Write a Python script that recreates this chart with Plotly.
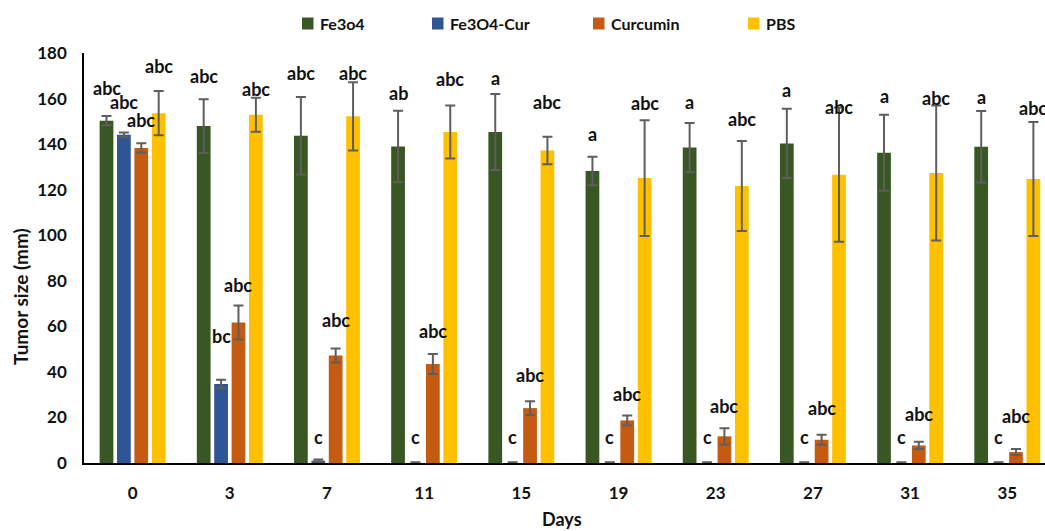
import plotly.graph_objects as go

# ---- data -------------------------------------------------------------
days = ["0", "3", "7", "11", "15", "19", "23", "27", "31", "35"]
series_names = ["Fe3o4", "Fe3O4-Cur", "Curcumin", "PBS"]

fe3o4 = [150.3, 147.9, 143.7, 139.0, 145.3, 128.2, 138.5, 140.3, 136.2, 138.8]
fe3o4_err = [2.0, 11.8, 17.0, 15.7, 16.7, 6.3, 10.8, 15.2, 16.7, 15.7]

fe3o4_cur = [144.1, 34.7, 1.0, 0, 0, 0, 0, 0, 0, 0]
fe3o4_cur_err = [1.0, 1.9, 0.5, 0.3, 0.3, 0.3, 0.3, 0.3, 0.3, 0.3]

curcumin = [138.3, 61.7, 47.2, 43.5, 24.1, 18.7, 11.7, 10.2, 7.7, 4.8]
curcumin_err = [2.1, 7.5, 3.1, 4.4, 3.0, 2.2, 3.6, 2.2, 1.6, 1.3]

pbs = [153.6, 152.9, 152.2, 145.3, 137.2, 125.1, 121.6, 126.6, 127.3, 124.7]
pbs_err = [9.7, 7.5, 15.0, 11.6, 6.0, 25.4, 19.8, 29.5, 29.6, 25.0]

# significance letters for each bar
fe3o4_letters = ["abc", "abc", "abc", "ab", "a", "a", "a", "a", "a", "a"]
fe3o4_cur_letters = ["abc", "bc", "c", "c", "c", "c", "c", "c", "c", "c"]
curcumin_letters = ["abc"] * 10
pbs_letters = ["abc"] * 10

# heights (axis units) at which each letter group is written
fe3o4_letter_y = [164.7, 169.7, 171.2, 162.4, 169.0, 144.6, 158.3, 163.6, 161.2, 160.9]
fe3o4_cur_letter_y = [158.6, 55.9, 11.3, 11.2, 11.2, 11.2, 11.2, 11.2, 11.2, 11.2]
curcumin_letter_y = [150.7, 78.3, 62.9, 58.1, 38.8, 30.4, 25.2, 24.1, 21.5, 20.7]
pbs_letter_y = [174.4, 164.2, 171.2, 168.7, 158.7, 158.0, 151.0, 156.5, 160.2, 155.8]

y_ticks = [0, 20, 40, 60, 80, 100, 120, 140, 160, 180]

# ---- styling ----------------------------------------------------------
colors = ["#385723", "#2F5597", "#C55A11", "#FFC000"]
FONT = "Lato"
W, H = 1045, 531
L, R, T, B = 84, 0, 53, 68
BARGAP, GROUPGAP = 0.284, 0.21
ERR_COLOR = "#5e5e5e"


def px_x(px):
    return (px - L) / (W - L - R)


def px_y(py):
    return (H - B - py) / (H - T - B)


x = list(range(len(days)))
values = [fe3o4, fe3o4_cur, curcumin, pbs]
errors = [fe3o4_err, fe3o4_cur_err, curcumin_err, pbs_err]
letters = [fe3o4_letters, fe3o4_cur_letters, curcumin_letters, pbs_letters]
letter_y = [fe3o4_letter_y, fe3o4_cur_letter_y, curcumin_letter_y, pbs_letter_y]

fig = go.Figure()
for name, vals, errs, col in zip(series_names, values, errors, colors):
    fig.add_trace(go.Bar(
        x=x, y=vals, name=name,
        marker=dict(color=col, line=dict(width=0)),
        error_y=dict(type="data", array=errs, visible=True,
                     color=ERR_COLOR, thickness=2, width=5),
        showlegend=False,
    ))

# letters above bars
slot = (1 - BARGAP) / len(series_names)
offsets = [(k - 1.5) * slot for k in range(len(series_names))]
for lets, ys, off in zip(letters, letter_y, offsets):
    for i, (txt, yv) in enumerate(zip(lets, ys)):
        fig.add_annotation(
            x=i + off, y=yv, text=txt, showarrow=False,
            xanchor="center", yanchor="middle",
            font=dict(family=FONT, size=18, color="#111111", weight=700),
        )

# legend row
legend_left = [302, 432, 593, 748]
for name, col, lx in zip(series_names, colors, legend_left):
    fig.add_shape(type="rect", xref="paper", yref="paper",
                  x0=px_x(lx), x1=px_x(lx + 11.5),
                  y0=px_y(29.5), y1=px_y(17.5),
                  fillcolor=col, line=dict(width=0))
    fig.add_annotation(xref="paper", yref="paper", x=px_x(lx + 15.5), y=px_y(23.5),
                       text=name, showarrow=False, xanchor="left", yanchor="middle",
                       font=dict(family=FONT, size=16, color="#111111", weight=700))

# axis titles
fig.add_annotation(xref="paper", yref="paper", x=px_x(20), y=px_y(297),
                   text="Tumor size (mm)", textangle=-90, showarrow=False,
                   xanchor="center", yanchor="middle",
                   font=dict(family=FONT, size=19, color="#111111", weight=700))
fig.add_annotation(xref="paper", yref="paper", x=px_x(562), y=px_y(519),
                   text="Days", showarrow=False,
                   xanchor="center", yanchor="middle",
                   font=dict(family=FONT, size=18, color="#111111", weight=700))

fig.update_layout(
    width=W, height=H,
    margin=dict(l=L, r=R, t=T, b=B, autoexpand=False),
    paper_bgcolor="white", plot_bgcolor="white",
    barmode="group", bargap=BARGAP, bargroupgap=GROUPGAP,
    showlegend=False,
    font=dict(family=FONT, color="#111111"),
)
fig.update_xaxes(
    range=[-0.5, 9.388], tickvals=x, ticktext=days,
    showline=True, linecolor="#000000", linewidth=1.5,
    showgrid=False, zeroline=False, ticks="",
    ticklabelstandoff=14,
    tickfont=dict(family=FONT, size=17, color="#111111", weight=700),
)
fig.update_yaxes(
    range=[0, 180], tickvals=y_ticks,
    showline=True, linecolor="#000000", linewidth=1.5,
    showgrid=False, zeroline=False, ticks="",
    ticklabelstandoff=12,
    tickfont=dict(family=FONT, size=17, color="#111111", weight=700),
)

fig.write_html("out.html")
